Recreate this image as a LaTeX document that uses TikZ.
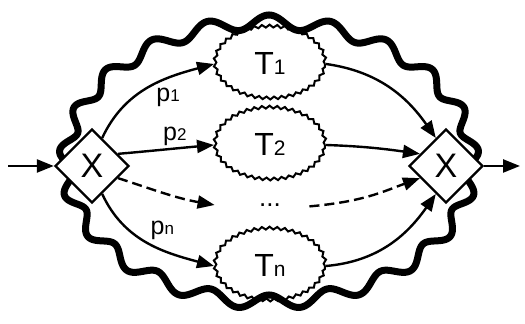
\documentclass[tikz,border=0pt]{standalone}
\usepackage{fontspec}
\setmainfont{Liberation Sans}
\usetikzlibrary{shapes.geometric,arrows.meta,decorations.pathmorphing,positioning}
\tikzstyle{ring}=[line width=3.5pt,line join=round]
\tikzstyle{task}=[ellipse,draw,line width=1pt,decorate,decoration={snake,segment length=3.8pt,amplitude=0.7pt},minimum width=55pt,minimum height=36pt,font=\fontsize{16}{18}\selectfont]
\tikzstyle{gap}=[minimum width=55pt,minimum height=20pt,font=\fontsize{13}{15}\selectfont]
\tikzstyle{xgate}=[diamond,draw,fill=white,line width=1.2pt,aspect=1,minimum width=37pt,minimum height=37pt,inner sep=0pt,font=\fontsize{17}{20}\selectfont]
\tikzstyle{arr}=[-{Triangle[length=8.5pt,width=6.5pt]},line width=1.2pt]
\tikzstyle{lab}=[font=\fontsize{12.5}{14}\selectfont,inner sep=1pt]
\newcommand{\bigsub}[1]{{\fontsize{10.5}{12}\selectfont #1}}
\newcommand{\smallsub}[1]{{\fontsize{8.5}{9}\selectfont #1}}

\begin{document}
\begin{tikzpicture}[x=0.5pt,y=0.5pt]
\useasboundingbox (0,0) rectangle (525,324);
% wavy pool border
\draw[ring] plot[domain=0:360,samples=841,variable=\t]
  ({269+203*cos(\t)+7*sin(21*\t)*1.40*cos(\t)/sqrt((1.40*cos(\t))^2+(2.03*sin(\t))^2)},
   {162+140*sin(\t)+7*sin(21*\t)*2.03*sin(\t)/sqrt((1.40*cos(\t))^2+(2.03*sin(\t))^2)}) -- cycle;
\node[xgate] (split) at (92,158) {X};
\node[xgate] (join) at (446,158) {X};
\node[task] (t1) at (270,260) {T\bigsub{1}};
\node[task] (t2) at (270,179) {T\bigsub{2}};
\node[gap] (dots) at (270,119) {...};
\node[task] (tn) at (270,58) {T\bigsub{n}};
\coordinate (in) at (8,158);
\coordinate (out) at (520,158);
% split side
\draw[arr] (in) -- (split);
\draw[arr] (split.70) to[out=65,in=195] node[lab,pos=0.55,below right]{p\smallsub{1}} (t1.west);
\draw[arr] (split.25) to[out=5,in=185] node[lab,pos=0.6,above]{p\smallsub{2}} (t2.west);
\draw[arr,dash pattern=on 5pt off 2.5pt] (split.-25) to[out=-18,in=170] (dots.west);
\draw[arr] (split.-70) to[out=-65,in=165] node[lab,pos=0.5,above right]{p\smallsub{n}} (tn.west);
% join side
\draw[arr] (t1.east) to[out=-8,in=125] (join.110);
\draw[arr] (t2.east) to[out=-2,in=172] (join.155);
\draw[arr,dash pattern=on 5pt off 2.5pt,shorten <=-8pt] (dots.east) to[out=5,in=200] (join.-155);
\draw[arr] (tn.east) to[out=5,in=235] (join.-110);
\draw[arr] (join) -- (out);
\end{tikzpicture}
\end{document}
